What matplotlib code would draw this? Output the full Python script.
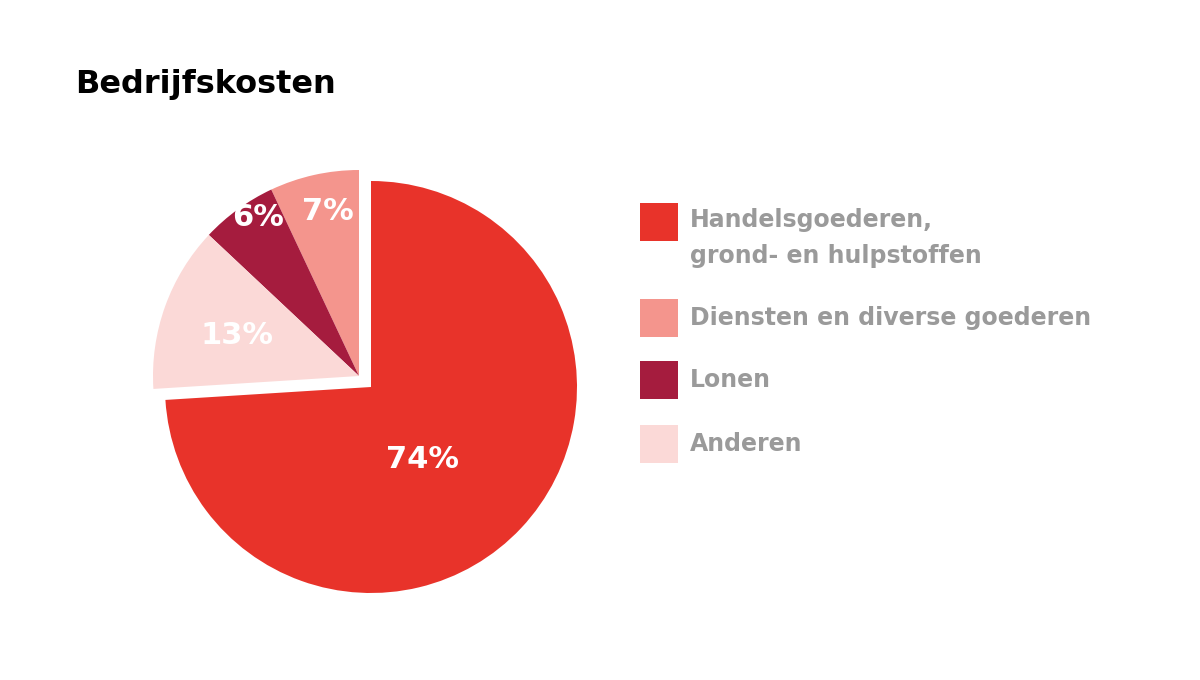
import matplotlib
matplotlib.use("Agg")
import matplotlib.pyplot as plt
from matplotlib.patches import Rectangle

title = "Bedrijfskosten"
categories = ["Diensten en diverse goederen", "Lonen", "Anderen", "Handelsgoederen,\ngrond- en hulpstoffen"]
values = [7, 6, 13, 74]
colors = ["#F4958D", "#A51C3E", "#FBD9D7", "#E8332A"]
legend_order = [3, 0, 1, 2]

fig = plt.figure(figsize=(12, 6.8), dpi=100)
ax = fig.add_axes([0, 0, 1, 1])
ax.set_xlim(0, 1200); ax.set_ylim(0, 680); ax.set_aspect("equal"); ax.axis("off")

cx, cy, r = 371, 680 - 387, 206
# big slice
w1, _ = ax.pie(values, startangle=90, counterclock=True, center=(cx, cy), radius=r,
               colors=["none", "none", "none", colors[3]], frame=True,
               wedgeprops=dict(linewidth=0))
# exploded small slices
w2, _ = ax.pie(values, startangle=90, counterclock=True, center=(cx - 12, cy + 11), radius=r,
               colors=colors[:3] + ["none"], frame=True, explode=[0, 0.05, 0, 0],
               wedgeprops=dict(linewidth=0))
ax.set_xlim(0, 1200); ax.set_ylim(0, 680); ax.axis("off")

lab_pos = [(328, 212), (258, 218), (237, 336), (422, 460)]
for (x, y), v in zip(lab_pos, values):
    ax.text(x, 680 - y, f"{v}%", color="white", fontsize=22, fontweight="bold",
            ha="center", va="center")

ax.text(75, 680 - 85, title, fontsize=23, fontweight="bold", color="black", va="center")

ys = [222, 318, 380, 444]
for y, i in zip(ys, legend_order):
    ax.add_patch(Rectangle((640, 680 - y - 19), 38, 38, color=colors[i], lw=0))
    ty = y + 16 if i == 3 else y
    ax.text(690, 680 - ty, categories[i], fontsize=17, fontweight="bold", color="#9A9A9A",
            va="center", linespacing=1.6)

fig.savefig("out.png", dpi=100)
